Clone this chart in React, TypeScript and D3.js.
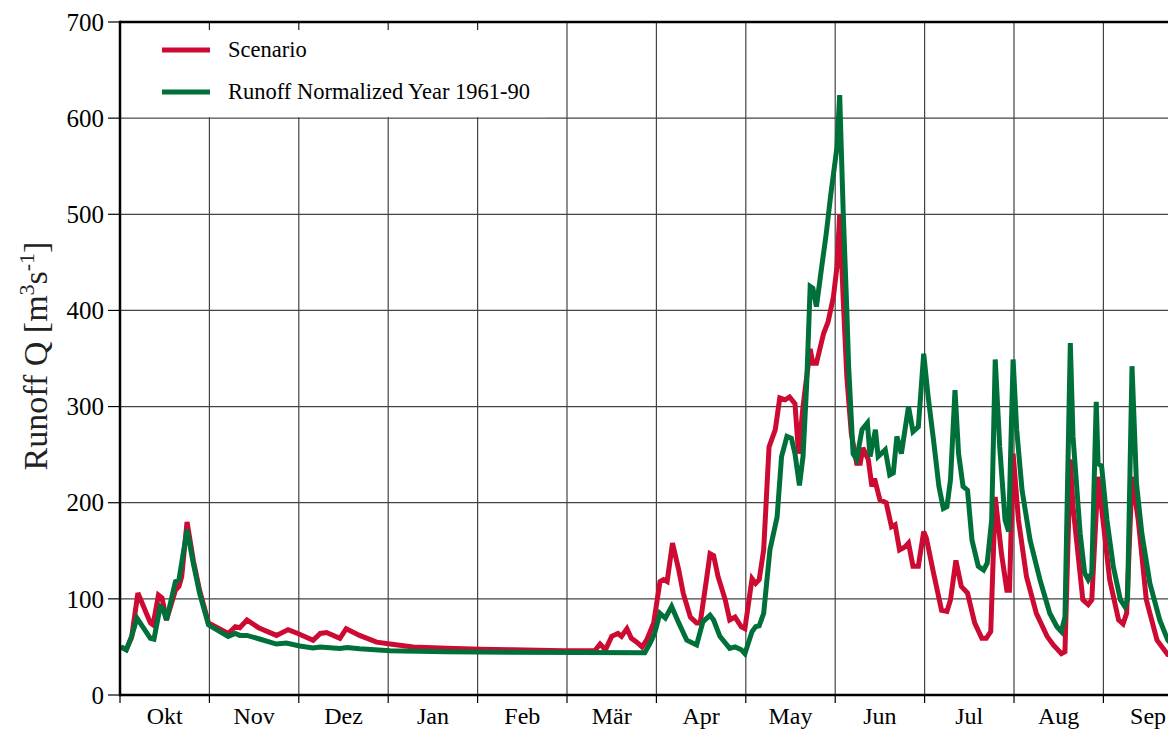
// @ts-nocheck
import * as d3 from "d3";

// month positions in hydrological year (0 = 1 Oct, 12 = 30 Sep)
const months = ["Okt", "Nov", "Dez", "Jan", "Feb", "Mär", "Apr", "May", "Jun", "Jul", "Aug", "Sep"];
const yTicks = [0, 100, 200, 300, 400, 500, 600, 700];

// [time in months, runoff m3/s]
const scenario = [
  [0.01, 50], [0.07, 47], [0.13, 60], [0.2, 106], [0.34, 75], [0.37, 73], [0.43, 104], [0.47, 101],
  [0.52, 78], [0.62, 109], [0.66, 113], [0.69, 123], [0.75, 180], [0.82, 140], [0.89, 109], [0.99, 75],
  [1.21, 64], [1.29, 71], [1.34, 70], [1.42, 78], [1.55, 70], [1.75, 62], [1.88, 68], [1.99, 64],
  [2.16, 57], [2.24, 64], [2.31, 65], [2.46, 59], [2.53, 69], [2.68, 62], [2.87, 55], [3.02, 53],
  [3.28, 50], [3.65, 48.5], [4.03, 47.5], [4.4, 47], [4.96, 46], [5.31, 46], [5.37, 53], [5.43, 47],
  [5.5, 61], [5.57, 64], [5.61, 61], [5.67, 69], [5.72, 59], [5.78, 55], [5.84, 50], [5.89, 57],
  [5.97, 75], [6.04, 118], [6.08, 120], [6.12, 118], [6.18, 158], [6.25, 130], [6.3, 106], [6.38, 81],
  [6.45, 75], [6.49, 75], [6.56, 120], [6.6, 147], [6.64, 145], [6.69, 123], [6.77, 99], [6.82, 78],
  [6.88, 81], [6.95, 71], [6.99, 69], [7.07, 121], [7.11, 116], [7.15, 120], [7.2, 151], [7.26, 258],
  [7.33, 276], [7.38, 309], [7.44, 307], [7.49, 310], [7.55, 303], [7.59, 251], [7.64, 300], [7.72, 360],
  [7.75, 345], [7.79, 345], [7.87, 376], [7.92, 388], [7.98, 414], [8.02, 446], [8.05, 500], [8.09, 411],
  [8.13, 331], [8.18, 272], [8.24, 241], [8.28, 241], [8.31, 257], [8.37, 245], [8.41, 217], [8.44, 225],
  [8.5, 203], [8.57, 200], [8.63, 175], [8.67, 177], [8.72, 151], [8.78, 154], [8.82, 158], [8.87, 134],
  [8.93, 134], [8.99, 170], [9.02, 163], [9.1, 127], [9.19, 88], [9.25, 87], [9.29, 99], [9.35, 140],
  [9.41, 113], [9.48, 106], [9.56, 75], [9.64, 59], [9.69, 59], [9.74, 66], [9.79, 206], [9.86, 147],
  [9.92, 109], [9.95, 109], [9.99, 251], [10.05, 182], [10.14, 123], [10.25, 85], [10.37, 61], [10.44, 52],
  [10.53, 43], [10.57, 45], [10.63, 245], [10.66, 196], [10.77, 99], [10.83, 94], [10.87, 99], [10.94, 227],
  [11.0, 178], [11.07, 120], [11.17, 78], [11.22, 74], [11.26, 85], [11.32, 227], [11.39, 182], [11.48, 99],
  [11.6, 57], [11.72, 42], [11.85, 38], [12.0, 35],
];

const normalized = [
  [0.01, 50], [0.07, 47], [0.13, 61], [0.19, 80], [0.34, 59], [0.38, 58], [0.45, 92], [0.48, 90],
  [0.52, 78], [0.62, 118], [0.66, 120], [0.75, 172], [0.82, 137], [0.89, 106], [0.99, 73], [1.21, 61],
  [1.29, 64], [1.34, 62], [1.42, 62], [1.57, 58], [1.75, 53], [1.86, 54], [2.01, 51], [2.16, 49],
  [2.24, 50], [2.46, 48.5], [2.54, 49.5], [2.68, 48], [3.02, 46], [3.65, 45], [4.4, 44.5], [5.87, 44],
  [5.93, 54], [5.98, 64], [6.04, 85], [6.1, 80], [6.17, 92], [6.25, 75], [6.34, 57], [6.45, 52],
  [6.52, 76], [6.6, 83], [6.64, 78], [6.71, 61], [6.82, 48.5], [6.88, 50], [6.95, 47], [6.99, 43],
  [7.07, 66], [7.11, 71], [7.15, 72], [7.2, 85], [7.27, 151], [7.35, 185], [7.4, 248], [7.46, 269],
  [7.51, 267], [7.55, 251], [7.6, 218], [7.64, 248], [7.68, 321], [7.72, 425], [7.75, 423], [7.79, 404],
  [7.85, 446], [7.9, 480], [7.95, 520], [8.02, 570], [8.05, 624], [8.09, 501], [8.13, 400], [8.15, 342],
  [8.2, 251], [8.24, 245], [8.3, 276], [8.36, 283], [8.39, 248], [8.45, 276], [8.48, 248], [8.56, 255],
  [8.61, 229], [8.65, 231], [8.69, 269], [8.74, 251], [8.82, 300], [8.87, 274], [8.93, 279], [8.99, 355],
  [9.04, 310], [9.1, 265], [9.16, 217], [9.21, 194], [9.25, 196], [9.29, 224], [9.34, 317], [9.38, 251],
  [9.43, 217], [9.48, 213], [9.53, 161], [9.6, 134], [9.66, 130], [9.7, 137], [9.75, 182], [9.79, 349],
  [9.84, 258], [9.9, 182], [9.94, 170], [9.99, 349], [10.03, 276], [10.09, 213], [10.18, 161], [10.29, 120],
  [10.4, 85], [10.48, 71], [10.53, 66], [10.57, 81], [10.63, 366], [10.66, 269], [10.74, 168], [10.79, 127],
  [10.83, 120], [10.87, 127], [10.92, 305], [10.94, 241], [10.98, 238], [11.04, 182], [11.11, 134], [11.19, 99],
  [11.24, 92], [11.27, 99], [11.32, 342], [11.37, 220], [11.43, 168], [11.52, 116], [11.63, 78], [11.72, 57],
  [11.85, 45], [12.0, 40],
];

const RED = "#cc0a32";
const GREEN = "#00703a";
const FONT = "Liberation Serif";

export default function App() {
  const width = 1168;
  const height = 731;
  const left = 120;
  const top = 22;
  const bottom = 695;
  const monthW = 89.4;
  const right = left + 12 * monthW;

  const x = d3.scaleLinear([0, 12], [left, right]);
  const y = d3.scaleLinear([0, 700], [bottom, top]);

  const line = d3
    .line()
    .x((d) => x(d[0]))
    .y((d) => y(d[1]));

  const bounds = d3.range(0, 13);

  return (
    <svg
      width={width}
      height={height}
      style={{ position: "absolute", left: 0, top: 0, background: "#fff" }}
    >
      <defs>
        <clipPath id="plot">
          <rect x={left} y={top} width={width - left} height={bottom - top} />
        </clipPath>
      </defs>

      {/* grid */}
      <g stroke="#444" strokeWidth={1.2}>
        {yTicks.slice(1, -1).map((t) => (
          <line key={"h" + t} x1={left} x2={width} y1={y(t)} y2={y(t)} />
        ))}
        {bounds.slice(1).map((m) => (
          <line key={"v" + m} x1={x(m)} x2={x(m)} y1={top} y2={bottom} />
        ))}
      </g>

      {/* legend box */}
      <rect x={left + 1} y={top + 1} width={425} height={y(600) - top - 2} fill="#fff" />
      <g stroke="#222" strokeWidth={1.2}>
        {bounds.slice(1, 5).map((m) => (
          <line key={"tt" + m} x1={x(m)} x2={x(m)} y1={top} y2={top + 8} />
        ))}
      </g>

      {/* series */}
      <g clipPath="url(#plot)" fill="none" strokeWidth={5} strokeLinejoin="miter" strokeMiterlimit={3}>
        <path d={line(scenario)} stroke={RED} />
        <path d={line(normalized)} stroke={GREEN} />
      </g>

      {/* axes */}
      <g stroke="#000" strokeWidth={2.5}>
        <line x1={left} x2={width} y1={bottom} y2={bottom} />
        <line x1={left} x2={width} y1={top} y2={top} />
        <line x1={left} x2={left} y1={top - 1.25} y2={bottom + 1.25} />
      </g>
      <g stroke="#000" strokeWidth={1.2}>
        {yTicks.map((t) => (
          <line key={"yt" + t} x1={left - 12} x2={left} y1={y(t)} y2={y(t)} />
        ))}
        {bounds.map((m) => (
          <line key={"bt" + m} x1={x(m)} x2={x(m)} y1={bottom} y2={bottom + 8} />
        ))}
      </g>
      <g fontSize={25} fill="#000" textAnchor="end" fontFamily={FONT}>
        {yTicks.map((t) => (
          <text key={"yl" + t} x={left - 16} y={y(t)} dy="0.35em">
            {t}
          </text>
        ))}
      </g>
      <g fontSize={24} fill="#000" textAnchor="middle" fontFamily={FONT}>
        {months.map((m, i) => (
          <text key={m} x={x(i + 0.5)} y={724}>
            {m}
          </text>
        ))}
      </g>

      <text
        transform={`translate(47,356) rotate(-90)`}
        textAnchor="middle"
        fontSize={34}
        fill="#222"
        fontFamily={FONT}
      >
        Runoff Q [m
        <tspan fontSize={22} dy={-13}>3</tspan>
        <tspan dy={13}>s</tspan>
        <tspan fontSize={22} dy={-13}>-1</tspan>
        <tspan dy={13}>]</tspan>
      </text>

      {/* legend */}
      <g fontSize={22.5} fill="#000" fontFamily={FONT}>
        <line x1={162} x2={210} y1={50} y2={50} stroke={RED} strokeWidth={5} />
        <text x={228} y={57}>Scenario</text>
        <line x1={162} x2={210} y1={92} y2={92} stroke={GREEN} strokeWidth={5} />
        <text x={228} y={99}>Runoff Normalized Year 1961-90</text>
      </g>
    </svg>
  );
}
